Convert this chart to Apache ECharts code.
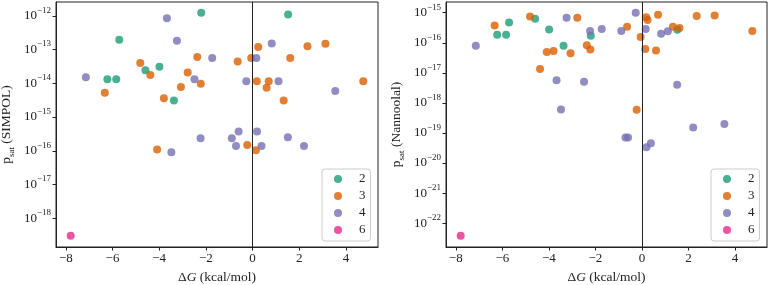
<!DOCTYPE html>
<html><head><meta charset="utf-8">
<script src="https://cdn.jsdelivr.net/npm/echarts@6/dist/echarts.min.js"></script>
<style>html,body{margin:0;padding:0;background:#fff}#c{width:769px;height:285px}</style>
</head><body><div id="c"></div>
<script>
// Legend groups
const groups = ['2', '3', '4', '6'];
const colors = ['#1b9e77', '#d95f02', '#7570b3', '#e7298a'];

// ΔG (kcal/mol) per group
const dG2 = [-6.22, -5.84, -5.71, -4.59, -3.99, -3.37, -2.20, 1.52];
const dG3 = [-6.33, -4.81, -4.38, -4.09, -3.80, -3.07, -2.78, -2.37, -2.22, -0.64, -0.23, -0.06, 0.14, 0.18, 0.24, 0.60, 0.69, 1.33, 1.61, 2.35, 3.12, 4.74];
const dG4 = [-7.14, -3.67, -3.48, -3.24, -2.49, -2.23, -1.73, -0.89, -0.71, -0.60, -0.27, 0.16, 0.19, 0.38, 0.82, 1.11, 1.51, 2.20, 3.54];
const dG6 = [-7.79];

// log10 p_sat (SIMPOL) per group
const simpol2 = [-13.88, -13.88, -12.71, -13.61, -13.51, -14.51, -11.91, -11.96];
const simpol3 = [-14.28, -13.40, -13.75, -15.96, -14.44, -14.11, -13.68, -13.22, -14.01, -13.35, -15.83, -13.25, -15.98, -13.94, -12.92, -14.13, -13.94, -14.51, -13.25, -12.90, -12.83, -13.94];
const simpol4 = [-13.82, -12.07, -16.04, -12.74, -13.88, -15.63, -13.25, -15.63, -15.86, -15.43, -13.94, -13.25, -15.43, -15.86, -12.82, -13.94, -15.60, -15.86, -14.23];
const simpol6 = [-18.52];

// log10 p_sat (Nannoolal) per group
const nano2 = [-15.73, -15.73, -15.33, -15.20, -15.56, -16.10, -15.77, -15.57];
const nano3 = [-15.43, -15.13, -16.87, -16.31, -16.27, -16.35, -15.17, -16.08, -16.22, -15.47, -18.23, -15.81, -16.21, -15.15, -15.24, -16.26, -15.07, -15.47, -15.51, -15.11, -15.09, -15.61];
const nano4 = [-16.10, -17.25, -18.22, -15.17, -17.30, -15.61, -15.54, -15.61, -19.15, -19.15, -15.00, -15.54, -19.47, -19.34, -15.70, -15.62, -17.40, -18.82, -18.70];
const nano6 = [-22.42];

// Tick values
const xTicks = [-8, -6, -4, -2, 0, 2, 4];
const yTicksSimpol = [-18, -17, -16, -15, -14, -13, -12];
const yTicksNano = [-22, -21, -20, -19, -18, -17, -16, -15];

const dGs = [dG2, dG3, dG4, dG6];
const simpols = [simpol2, simpol3, simpol4, simpol6];
const nanos = [nano2, nano3, nano4, nano6];

const FONT = 'Liberation Serif';
const INK = '#222';

function fmtX(v) { return v < 0 ? '\u2212' + (-v) : String(v); }
function fmtY(v) { return '10{s|\u2212' + (-Math.round(v)) + '}'; }

function xAxis(gi) {
  return {
    type: 'value', gridIndex: gi, min: -8.42, max: 5.37,
    splitLine: { show: false },
    axisLine: { show: true, onZero: false, lineStyle: { color: INK, width: 1 } },
    axisTick: { show: true, length: 3.5, lineStyle: { color: INK }, customValues: xTicks },
    axisLabel: { customValues: xTicks, formatter: fmtX, fontFamily: FONT, fontSize: 13, color: INK, margin: 5 },
    name: '\u0394{i|G} (kcal/mol)', nameLocation: 'middle', nameGap: 23,
    nameTextStyle: { fontFamily: FONT, fontSize: 13.5, color: INK, rich: { i: { fontStyle: 'italic', fontFamily: FONT, fontSize: 13.5, color: INK } } }
  };
}
function yAxis(gi, min, max, ticks, label) {
  return {
    type: 'value', gridIndex: gi, min: min, max: max,
    splitLine: { show: false },
    axisLine: { show: true, onZero: false, lineStyle: { color: INK, width: 1 } },
    axisTick: { show: true, length: 3.5, lineStyle: { color: INK }, customValues: ticks },
    axisLabel: { customValues: ticks, formatter: fmtY, fontFamily: FONT, fontSize: 13, color: INK, margin: 5, lineHeight: 20,
      rich: { s: { fontSize: 9, fontFamily: FONT, color: INK, verticalAlign: 'top' } } },
    name: 'p{sub|sat} (' + label + ')', nameLocation: 'middle', nameRotate: 90, nameGap: 40,
    nameTextStyle: { fontFamily: FONT, fontSize: 13.5, color: INK, lineHeight: 20,
      rich: { sub: { fontSize: 9, fontFamily: FONT, color: INK, verticalAlign: 'bottom' } } }
  };
}

const series = [];
[0, 1].forEach(function (gi) {
  groups.forEach(function (g, k) {
    const ys = gi === 0 ? simpols[k] : nanos[k];
    const s = {
      type: 'scatter', name: g, xAxisIndex: gi, yAxisIndex: gi,
      data: dGs[k].map(function (x, j) { return [x, ys[j]]; }),
      symbol: 'circle', symbolSize: 8,
      itemStyle: { color: colors[k], opacity: 0.8 },
      emphasis: { disabled: true }
    };
    if (k === 0) {
      s.markLine = {
        silent: true, symbol: ['none', 'none'], animation: false,
        label: { show: false },
        lineStyle: { color: INK, width: 1, type: 'solid', opacity: 1 },
        data: [{ xAxis: 0 }]
      };
    }
    series.push(s);
  });
});

function legend(left) {
  return {
    data: groups, orient: 'vertical', left: left, top: 169,
    icon: 'circle', itemWidth: 8, itemHeight: 8, itemGap: 3,
    padding: [3, 5, 4, 12],
    borderColor: '#ccc', borderWidth: 1, borderRadius: 3,
    backgroundColor: 'rgba(255,255,255,0.8)',
    textStyle: { fontFamily: FONT, fontSize: 13, color: INK, lineHeight: 14, padding: [0, 0, 0, 12] },
    selectedMode: false
  };
}

const chart = echarts.init(document.getElementById('c'), null, { renderer: 'canvas' });
chart.setOption({
  animation: false,
  backgroundColor: '#fff',
  grid: [
    { left: 56, top: 2, width: 322, height: 245, show: true, borderColor: INK, borderWidth: 1, backgroundColor: 'transparent', containLabel: false, outerBoundsMode: 'none' },
    { left: 446, top: 2, width: 321, height: 245, show: true, borderColor: INK, borderWidth: 1, backgroundColor: 'transparent', containLabel: false, outerBoundsMode: 'none' }
  ],
  xAxis: [xAxis(0), xAxis(1)],
  yAxis: [yAxis(0, -18.85, -11.59, yTicksSimpol, 'SIMPOL'), yAxis(1, -22.79, -14.645, yTicksNano, 'Nannoolal')],
  legend: [legend(322), legend(711)],
  series: series
});
</script>
</body></html>
